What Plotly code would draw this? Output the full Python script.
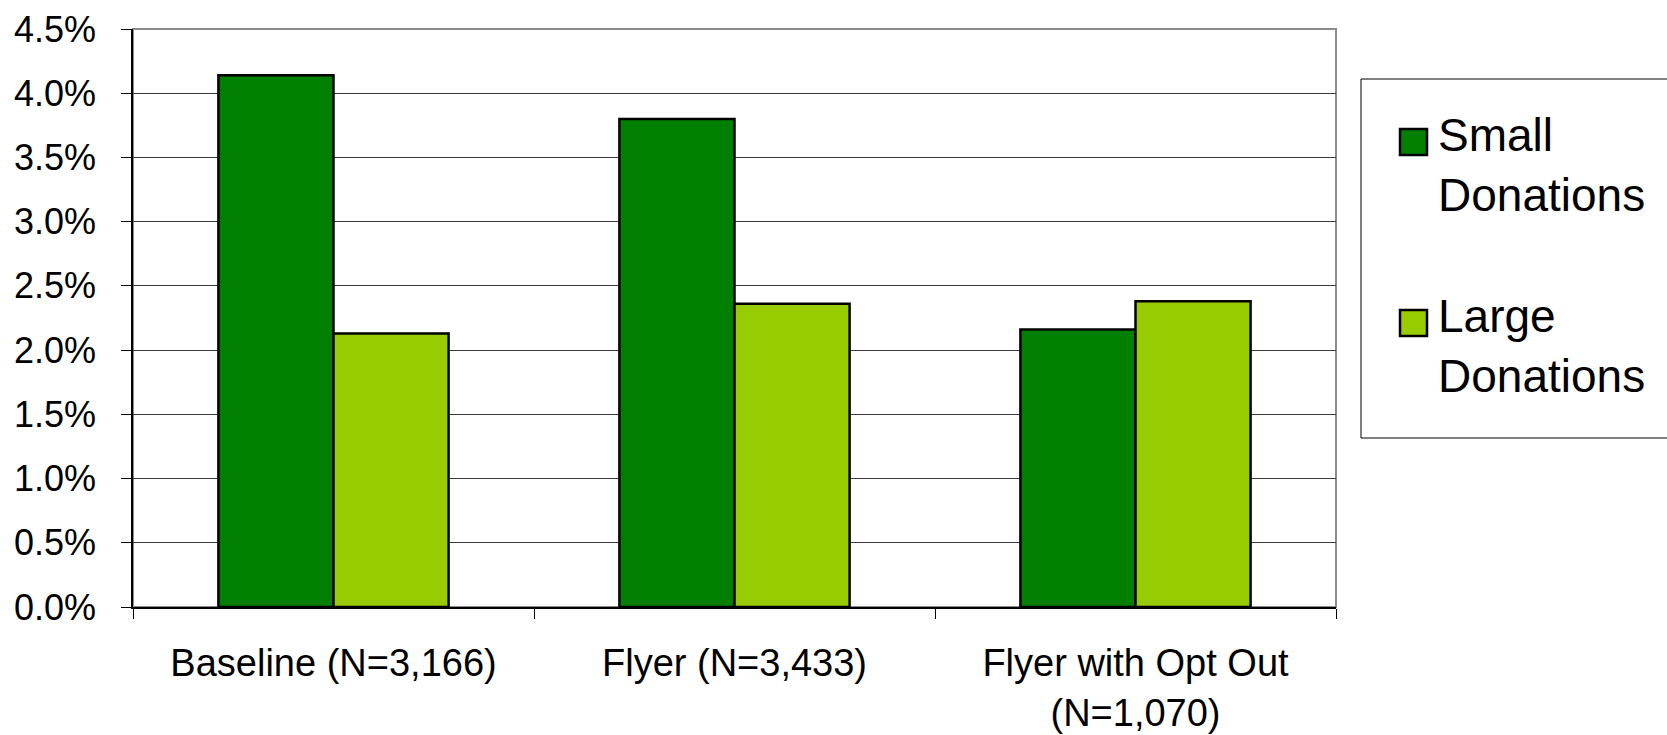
import plotly.graph_objects as go

# Donation rates by treatment group (percent of households)
categories = ["Baseline (N=3,166)", "Flyer (N=3,433)", "Flyer with Opt Out<br>(N=1,070)"]
small_donations = [4.14, 3.80, 2.16]
large_donations = [2.13, 2.36, 2.38]
series_names = ["Small<br>Donations", "Large<br>Donations"]
series_colors = ["#007F00", "#99CC00"]
y_ticks = [0.0, 0.5, 1.0, 1.5, 2.0, 2.5, 3.0, 3.5, 4.0, 4.5]

W, H = 1667, 735
L, R, T, B = 133, 1336, 29, 607
FONT = "Liberation Sans, Arial, sans-serif"

fig = go.Figure()
for name, vals, col in zip(series_names, [small_donations, large_donations], series_colors):
    fig.add_trace(go.Bar(
        x=categories, y=vals, name=name,
        marker=dict(color=col, line=dict(color="#000000", width=2.5)),
        showlegend=False,
    ))

# Plot-area frame: grey top/right edges
fig.add_shape(type="rect", xref="paper", yref="paper", x0=0, x1=1, y0=0, y1=1,
              line=dict(color="#8c8c8c", width=2), layer="below")

# Legend box, running off the right edge of the page
px = lambda v: (v - L) / (R - L)
py = lambda v: (B - v) / (B - T)
fig.add_shape(type="rect", xref="paper", yref="paper",
              x0=px(1361), x1=px(1700), y0=py(438), y1=py(79),
              line=dict(color="#000000", width=1), fillcolor="white")

key_tops = [129, 310]
for name, col, top in zip(series_names, series_colors, key_tops):
    fig.add_shape(type="rect", xref="paper", yref="paper",
                  x0=px(1400), x1=px(1427), y0=py(top + 26), y1=py(top),
                  line=dict(color="#000000", width=2.5), fillcolor=col)
    fig.add_annotation(xref="paper", yref="paper", x=px(1436), y=py(top - 22),
                       text=name, showarrow=False, xanchor="left", yanchor="top",
                       align="left", font=dict(family=FONT, size=46, color="#000000"))

fig.update_layout(
    width=W, height=H,
    margin=dict(l=L, r=W - R, t=T, b=H - B, pad=0, autoexpand=False),
    paper_bgcolor="white", plot_bgcolor="white",
    barmode="group", bargap=0.426, bargroupgap=0,
    font=dict(family=FONT, color="#000000"),
)
fig.update_xaxes(
    automargin=False,
    showline=True, linecolor="#000000", linewidth=1.5,
    ticks="outside", ticklen=10, tickcolor="#000000", tickwidth=1,
    tickson="boundaries", showgrid=False,
    tickfont=dict(family=FONT, size=38), ticklabelstandoff=22,
)
fig.update_yaxes(
    automargin=False,
    range=[0, 4.5], tickvals=y_ticks, ticktext=[f"{v:.1f}%" for v in y_ticks],
    showline=True, linecolor="#000000", linewidth=1.5,
    ticks="outside", ticklen=10, tickcolor="#000000", tickwidth=1,
    showgrid=True, gridcolor="#3a3a3a", gridwidth=1, zeroline=False,
    tickfont=dict(family=FONT, size=36), ticklabelstandoff=18,
)

fig.write_html("out.html")
